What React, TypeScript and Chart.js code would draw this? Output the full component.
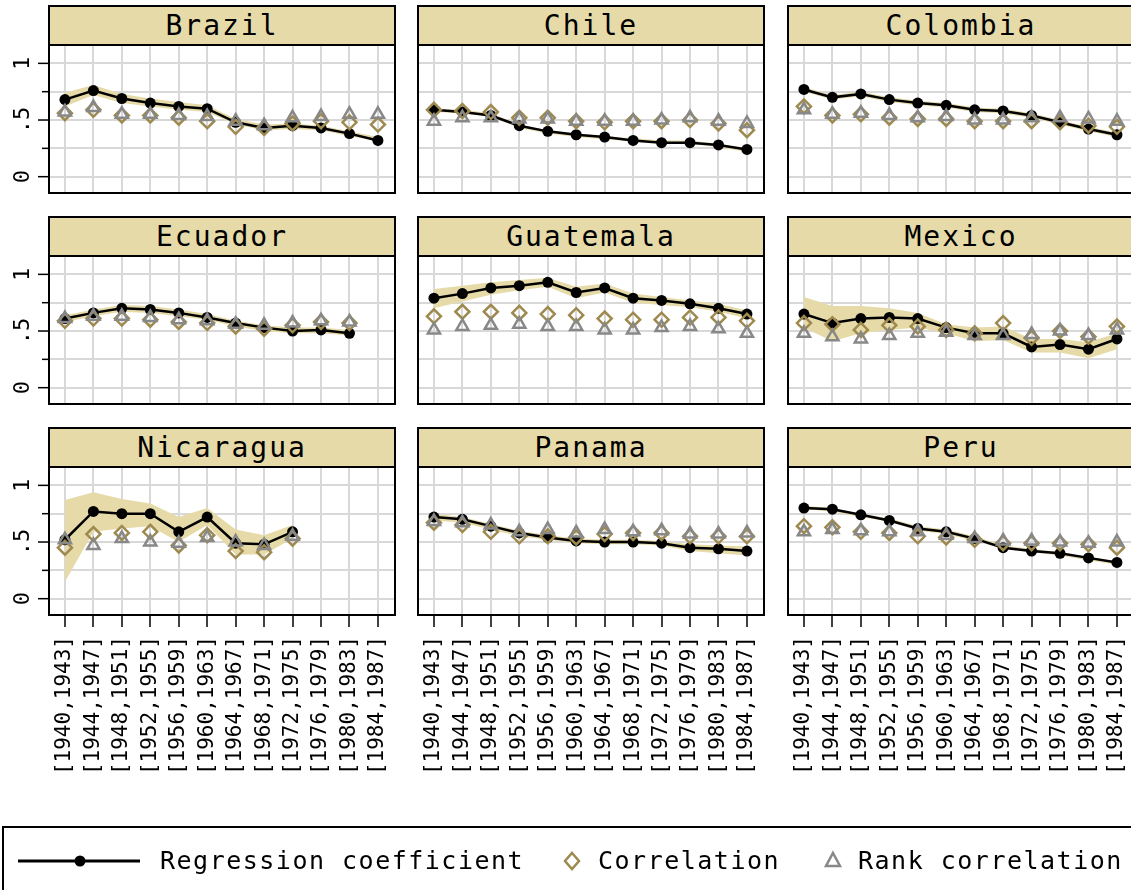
import { useEffect, useRef } from 'react'
import { Chart, registerables } from 'chart.js'

Chart.register(...registerables)
Chart.defaults.font.family = "'DejaVu Sans Mono', monospace"

const PERIODS = ['[1940,1943]', '[1944,1947]', '[1948,1951]', '[1952,1955]', '[1956,1959]', '[1960,1963]',
  '[1964,1967]', '[1968,1971]', '[1972,1975]', '[1976,1979]', '[1980,1983]', '[1984,1987]']
const Y_MAJOR = [0, 0.5, 1]
const Y_MAJOR_LABELS = ['0', '.5', '1']
const Y_MINOR = [0.25, 0.75]

const COUNTRIES = ['Brazil', 'Chile', 'Colombia', 'Ecuador', 'Guatemala', 'Mexico', 'Nicaragua', 'Panama', 'Peru']

const BRAZIL_REG = [0.68, 0.76, 0.69, 0.65, 0.62, 0.60, 0.48, 0.43, 0.45, 0.43, 0.38, 0.32]
const BRAZIL_HI = [0.74, 0.81, 0.73, 0.69, 0.66, 0.63, 0.51, 0.46, 0.47, 0.45, 0.40, 0.35]
const BRAZIL_LO = [0.62, 0.72, 0.65, 0.62, 0.59, 0.57, 0.46, 0.41, 0.42, 0.41, 0.36, 0.31]
const BRAZIL_CORR = [0.56, 0.59, 0.54, 0.54, 0.52, 0.49, 0.44, 0.43, 0.47, 0.49, 0.48, 0.46]
const BRAZIL_RANK = [0.57, 0.61, 0.55, 0.55, 0.54, 0.53, 0.49, 0.45, 0.52, 0.53, 0.55, 0.55]

const CHILE_REG = [0.59, 0.57, 0.54, 0.45, 0.40, 0.37, 0.35, 0.32, 0.30, 0.30, 0.28, 0.24]
const CHILE_HI = [0.60, 0.59, 0.56, 0.46, 0.41, 0.38, 0.36, 0.34, 0.32, 0.32, 0.29, 0.25]
const CHILE_LO = [0.57, 0.56, 0.53, 0.43, 0.38, 0.35, 0.33, 0.31, 0.29, 0.29, 0.26, 0.22]
const CHILE_CORR = [0.59, 0.58, 0.57, 0.52, 0.52, 0.49, 0.48, 0.49, 0.49, 0.50, 0.47, 0.41]
const CHILE_RANK = [0.49, 0.52, 0.52, 0.51, 0.51, 0.49, 0.49, 0.49, 0.50, 0.52, 0.49, 0.47]

const COLOMBIA_REG = [0.77, 0.70, 0.73, 0.68, 0.65, 0.63, 0.59, 0.58, 0.54, 0.48, 0.42, 0.37]
const COLOMBIA_HI = [0.79, 0.72, 0.75, 0.70, 0.67, 0.65, 0.61, 0.60, 0.56, 0.50, 0.44, 0.39]
const COLOMBIA_LO = [0.75, 0.68, 0.71, 0.66, 0.63, 0.61, 0.57, 0.56, 0.52, 0.46, 0.40, 0.35]
const COLOMBIA_CORR = [0.62, 0.54, 0.55, 0.52, 0.51, 0.51, 0.49, 0.49, 0.49, 0.48, 0.45, 0.44]
const COLOMBIA_RANK = [0.59, 0.55, 0.56, 0.54, 0.52, 0.53, 0.50, 0.50, 0.52, 0.52, 0.51, 0.49]

const ECUADOR_REG = [0.61, 0.66, 0.70, 0.69, 0.66, 0.62, 0.57, 0.53, 0.50, 0.51, 0.48]
const ECUADOR_HI = [0.64, 0.69, 0.73, 0.72, 0.69, 0.65, 0.59, 0.55, 0.53, 0.53, 0.51]
const ECUADOR_LO = [0.58, 0.63, 0.67, 0.66, 0.63, 0.60, 0.54, 0.50, 0.48, 0.48, 0.46]
const ECUADOR_CORR = [0.59, 0.61, 0.61, 0.60, 0.58, 0.57, 0.54, 0.52, 0.55, 0.58, 0.57]
const ECUADOR_RANK = [0.61, 0.63, 0.63, 0.62, 0.60, 0.59, 0.56, 0.55, 0.57, 0.59, 0.58]

const GUATEMALA_REG = [0.79, 0.83, 0.88, 0.90, 0.93, 0.84, 0.88, 0.79, 0.77, 0.74, 0.70, 0.65]
const GUATEMALA_HI = [0.87, 0.90, 0.93, 0.95, 0.97, 0.89, 0.92, 0.83, 0.80, 0.77, 0.74, 0.68]
const GUATEMALA_LO = [0.70, 0.76, 0.82, 0.86, 0.89, 0.79, 0.84, 0.75, 0.73, 0.71, 0.67, 0.61]
const GUATEMALA_CORR = [0.63, 0.67, 0.67, 0.66, 0.65, 0.64, 0.61, 0.60, 0.60, 0.62, 0.62, 0.59]
const GUATEMALA_RANK = [0.51, 0.54, 0.55, 0.56, 0.54, 0.54, 0.51, 0.51, 0.53, 0.54, 0.52, 0.48]

const MEXICO_REG = [0.65, 0.57, 0.61, 0.62, 0.61, 0.53, 0.48, 0.48, 0.36, 0.38, 0.34, 0.43]
const MEXICO_HI = [0.80, 0.72, 0.72, 0.70, 0.66, 0.56, 0.53, 0.54, 0.43, 0.43, 0.40, 0.48]
const MEXICO_LO = [0.53, 0.41, 0.48, 0.51, 0.53, 0.48, 0.41, 0.42, 0.31, 0.31, 0.26, 0.34]
const MEXICO_CORR = [0.57, 0.56, 0.51, 0.55, 0.54, 0.51, 0.48, 0.57, 0.44, 0.50, 0.45, 0.54]
const MEXICO_RANK = [0.48, 0.45, 0.43, 0.46, 0.48, 0.49, 0.46, 0.46, 0.47, 0.50, 0.46, 0.51]

const NICARAGUA_REG = [0.52, 0.77, 0.75, 0.75, 0.59, 0.72, 0.49, 0.48, 0.59]
const NICARAGUA_HI = [0.87, 0.94, 0.88, 0.84, 0.72, 0.80, 0.61, 0.56, 0.65]
const NICARAGUA_LO = [0.15, 0.59, 0.62, 0.64, 0.50, 0.65, 0.39, 0.39, 0.53]
const NICARAGUA_CORR = [0.45, 0.57, 0.58, 0.59, 0.47, 0.56, 0.42, 0.41, 0.53]
const NICARAGUA_RANK = [0.52, 0.47, 0.53, 0.50, 0.49, 0.54, 0.50, 0.47, 0.55]

const PANAMA_REG = [0.72, 0.70, 0.64, 0.58, 0.54, 0.51, 0.50, 0.50, 0.49, 0.45, 0.44, 0.42]
const PANAMA_HI = [0.75, 0.72, 0.66, 0.60, 0.56, 0.53, 0.52, 0.52, 0.51, 0.48, 0.47, 0.46]
const PANAMA_LO = [0.69, 0.67, 0.61, 0.55, 0.52, 0.49, 0.48, 0.48, 0.47, 0.42, 0.40, 0.38]
const PANAMA_CORR = [0.67, 0.65, 0.59, 0.55, 0.55, 0.54, 0.57, 0.58, 0.58, 0.55, 0.55, 0.55]
const PANAMA_RANK = [0.68, 0.67, 0.65, 0.59, 0.61, 0.58, 0.61, 0.59, 0.60, 0.57, 0.57, 0.58]

const PERU_REG = [0.80, 0.79, 0.74, 0.69, 0.62, 0.59, 0.53, 0.45, 0.42, 0.40, 0.36, 0.32]
const PERU_HI = [0.82, 0.80, 0.75, 0.71, 0.64, 0.61, 0.55, 0.47, 0.44, 0.41, 0.37, 0.33]
const PERU_LO = [0.79, 0.77, 0.72, 0.68, 0.60, 0.57, 0.51, 0.44, 0.41, 0.38, 0.34, 0.30]
const PERU_CORR = [0.64, 0.63, 0.59, 0.58, 0.55, 0.54, 0.52, 0.49, 0.49, 0.49, 0.48, 0.45]
const PERU_RANK = [0.59, 0.61, 0.60, 0.59, 0.59, 0.56, 0.53, 0.51, 0.51, 0.50, 0.49, 0.50]

const REG = [BRAZIL_REG, CHILE_REG, COLOMBIA_REG, ECUADOR_REG, GUATEMALA_REG, MEXICO_REG, NICARAGUA_REG, PANAMA_REG, PERU_REG]
const HI = [BRAZIL_HI, CHILE_HI, COLOMBIA_HI, ECUADOR_HI, GUATEMALA_HI, MEXICO_HI, NICARAGUA_HI, PANAMA_HI, PERU_HI]
const LO = [BRAZIL_LO, CHILE_LO, COLOMBIA_LO, ECUADOR_LO, GUATEMALA_LO, MEXICO_LO, NICARAGUA_LO, PANAMA_LO, PERU_LO]
const CORR = [BRAZIL_CORR, CHILE_CORR, COLOMBIA_CORR, ECUADOR_CORR, GUATEMALA_CORR, MEXICO_CORR, NICARAGUA_CORR, PANAMA_CORR, PERU_CORR]
const RANK = [BRAZIL_RANK, CHILE_RANK, COLOMBIA_RANK, ECUADOR_RANK, GUATEMALA_RANK, MEXICO_RANK, NICARAGUA_RANK, PANAMA_RANK, PERU_RANK]

const BEIGE = '#e6daa8'
const OLIVE = '#9e8a4f'
const GREY = '#888888'
const GRID = '#d8d8d8'
const MONO = "'DejaVu Sans Mono', monospace"

// layout of the 3x3 grid (plot region boxes, page px)
const COL_LEFT = [49, 418, 788]
const ROW_TOP = [45, 256, 467]
const PLOT_W = 346
const PLOT_H = 148
const Y_AXIS_W = 49
const X_AXIS_H = 165

const pts = (a: number[]) => a.map((v, i) => ({ x: i, y: v }))

// plot frame + stata-like y axis (rotated labels, minor ticks)
const framePlugin = {
  id: 'frame',
  afterDraw(chart: any, _args: any, opts: any) {
    const { ctx, chartArea: a } = chart
    const y = chart.scales.y
    ctx.save()
    ctx.strokeStyle = '#000'
    ctx.lineWidth = 2
    ctx.strokeRect(a.left, a.top, a.right - a.left, a.bottom - a.top)
    if (opts.showY) {
      ctx.lineWidth = 1.5
      Y_MAJOR.forEach((v, i) => {
        const py = y.getPixelForValue(v)
        ctx.beginPath(); ctx.moveTo(a.left - 11, py); ctx.lineTo(a.left, py); ctx.stroke()
        ctx.save()
        ctx.translate(a.left - 20, py)
        ctx.rotate(-Math.PI / 2)
        ctx.font = `22px ${MONO}`
        ctx.fillStyle = '#000'
        ctx.textAlign = 'center'
        ctx.textBaseline = 'alphabetic'
        ctx.fillText(Y_MAJOR_LABELS[i], 0, 0)
        ctx.restore()
      })
      Y_MINOR.forEach(v => {
        const py = y.getPixelForValue(v)
        ctx.beginPath(); ctx.moveTo(a.left - 7, py); ctx.lineTo(a.left, py); ctx.stroke()
      })
    }
    ctx.restore()
  },
}

function Panel({ idx }: { idx: number }) {
  const ref = useRef<HTMLCanvasElement>(null)
  const col = idx % 3
  const row = Math.floor(idx / 3)
  const yW = col === 0 ? Y_AXIS_W : 0
  const xH = row === 2 ? X_AXIS_H : 0
  const w = yW + PLOT_W + 4
  const h = PLOT_H + xH + 4

  useEffect(() => {
    if (!ref.current) return
    const chart = new Chart(ref.current, {
      type: 'line',
      data: {
        datasets: [
          { data: pts(HI[idx]), borderWidth: 0, pointRadius: 0, fill: '+1', backgroundColor: BEIGE, order: 5, tension: 0 },
          { data: pts(LO[idx]), borderWidth: 0, pointRadius: 0, fill: false, order: 5, tension: 0 },
          { data: pts(REG[idx]), borderColor: '#000', borderWidth: 2.5, pointRadius: 5.5, pointBackgroundColor: '#000',
            pointBorderWidth: 0, fill: false, order: 3, tension: 0 },
          { data: pts(CORR[idx]), showLine: false, pointStyle: 'rectRot', pointRadius: 7, pointBorderColor: OLIVE,
            pointBackgroundColor: 'rgba(0,0,0,0)', pointBorderWidth: 2.5, order: 2 },
          { data: pts(RANK[idx]), showLine: false, pointStyle: 'triangle', pointRadius: 7, pointBorderColor: GREY,
            pointBackgroundColor: 'rgba(0,0,0,0)', pointBorderWidth: 2.5, order: 1 },
        ],
      } as any,
      options: {
        animation: false,
        responsive: false,
        events: [],
        layout: { padding: 2, autoPadding: false },
        plugins: {
          legend: { display: false },
          tooltip: { enabled: false },
          frame: { showY: col === 0 },
        } as any,
        scales: {
          x: {
            type: 'linear',
            min: -0.56,
            max: 11.6,
            afterBuildTicks: (s: any) => { s.ticks = PERIODS.map((_, i) => ({ value: i })) },
            afterFit: (s: any) => { s.height = xH; s.paddingLeft = 0; s.paddingRight = 0 },
            border: { display: false },
            grid: { color: GRID, lineWidth: 2, drawTicks: row === 2, tickLength: 12, tickColor: '#000', tickWidth: 1.5 },
            ticks: {
              display: row === 2,
              autoSkip: false,
              minRotation: 90,
              maxRotation: 90,
              padding: 9,
              color: '#000',
              font: { family: MONO, size: 21 },
              callback: (v: any) => PERIODS[v],
            },
          },
          y: {
            type: 'linear',
            min: -0.144,
            max: 1.162,
            afterBuildTicks: (s: any) => { s.ticks = [0, 0.25, 0.5, 0.75, 1].map(v => ({ value: v })) },
            afterFit: (s: any) => { s.width = yW; s.paddingTop = 0; s.paddingBottom = 0 },
            border: { display: false },
            grid: { color: GRID, lineWidth: 2, drawTicks: false },
            ticks: { display: false },
          },
        },
      },
      plugins: [framePlugin],
    })
    return () => chart.destroy()
  }, [idx])

  return (
    <>
      <div style={{
        position: 'absolute', left: COL_LEFT[col] - 1, top: ROW_TOP[row] - 40, width: PLOT_W + 2, height: 41,
        boxSizing: 'border-box', border: '2px solid #000', background: BEIGE,
        display: 'flex', alignItems: 'center', justifyContent: 'center',
        fontFamily: MONO, fontSize: 28, letterSpacing: 2, color: '#000',
      }}>{COUNTRIES[idx]}</div>
      <canvas ref={ref} width={w} height={h} style={{
        position: 'absolute', left: COL_LEFT[col] - yW - 2, top: ROW_TOP[row] - 2, width: w, height: h,
      }} />
    </>
  )
}

function Legend() {
  const text = { position: 'absolute' as const, top: 845, fontFamily: MONO, fontSize: 25, letterSpacing: 1.5, lineHeight: '32px', color: '#000', whiteSpace: 'nowrap' as const }
  return (
    <>
      <div style={{ position: 'absolute', left: 2, top: 826, width: 1160, height: 90, border: '2px solid #000', boxSizing: 'border-box' }} />
      <svg width={1131} height={890} style={{ position: 'absolute', left: 0, top: 0, pointerEvents: 'none' }}>
        <line x1={18} y1={861} x2={140} y2={861} stroke="#000" strokeWidth={3} />
        <circle cx={80} cy={861} r={5.5} fill="#000" />
        <polygon points="572,853 579,861 572,869 565,861" fill="none" stroke={OLIVE} strokeWidth={2.5} />
        <polygon points="833,853 840,866 826,866" fill="none" stroke={GREY} strokeWidth={2.5} />
      </svg>
      <div style={{ ...text, left: 160 }}>Regression coefficient</div>
      <div style={{ ...text, left: 598 }}>Correlation</div>
      <div style={{ ...text, left: 858 }}>Rank correlation</div>
    </>
  )
}

export default function App() {
  return (
    <div style={{ position: 'fixed', left: 0, top: 0, width: 1131, height: 890, overflow: 'hidden', background: '#fff' }}>
      {COUNTRIES.map((_, i) => <Panel key={i} idx={i} />)}
      <Legend />
    </div>
  )
}
